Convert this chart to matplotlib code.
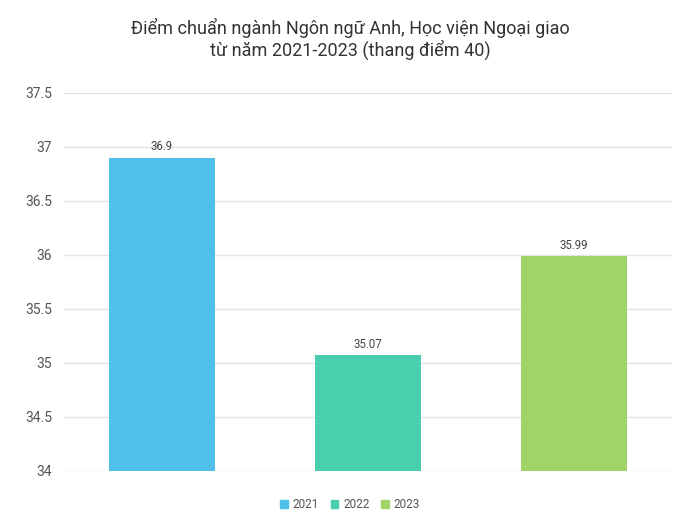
import matplotlib
matplotlib.use("Agg")
import matplotlib.pyplot as plt
from matplotlib.patches import Patch

years = ["2021", "2022", "2023"]
scores = [36.9, 35.07, 35.99]
labels = ["36.9", "35.07", "35.99"]
colors = ["#4FC1E9", "#48CFAD", "#A0D468"]
yticks = [34, 34.5, 35, 35.5, 36, 36.5, 37, 37.5]
ytick_labels = ["34", "34.5", "35", "35.5", "36", "36.5", "37", "37.5"]
title = "Điểm chuẩn ngành Ngôn ngữ Anh, Học viện Ngoại giao\ntừ năm 2021-2023 (thang điểm 40)"

plt.rcParams['font.family'] = ['Roboto', 'DejaVu Sans']

fig = plt.figure(figsize=(7, 5.25), dpi=100)
ax = fig.add_axes([64/700, 1-471/525, (672-64)/700, (471-93)/525])

x = list(range(len(years)))
bars = ax.bar(x, scores, width=0.515, color=colors, zorder=3)
for xi, v, lab in zip(x, scores, labels):
    ax.text(xi, v + 0.04, lab, ha='center', va='bottom', fontsize=8.3, color='#444444')

ax.set_xlim(-0.474, 2.474)
ax.set_ylim(34, 37.5)
ax.set_yticks(yticks)
ax.set_yticklabels(ytick_labels)
ax.set_xticks([])
ax.tick_params(axis='y', length=0, labelsize=10, labelcolor='#555555', pad=8.5)
ax.grid(axis='y', color='#e3e3e3', linewidth=1, zorder=0)
for s in ax.spines.values():
    s.set_visible(False)

fig.text(0.5, 1-39/525, title, ha='center', va='center', fontsize=13, color='#333333', linespacing=1.15)

handles = [Patch(color=c, label=y) for c, y in zip(colors, years)]
fig.legend(handles=handles, loc='center', bbox_to_anchor=(0.5, 1-505/525), ncol=3, frameon=False,
           fontsize=8.5, handlelength=0.65, handleheight=0.65, handletextpad=0.4, columnspacing=1.0,
           labelcolor='#555555')

fig.savefig("out.png", dpi=100, facecolor='white')
